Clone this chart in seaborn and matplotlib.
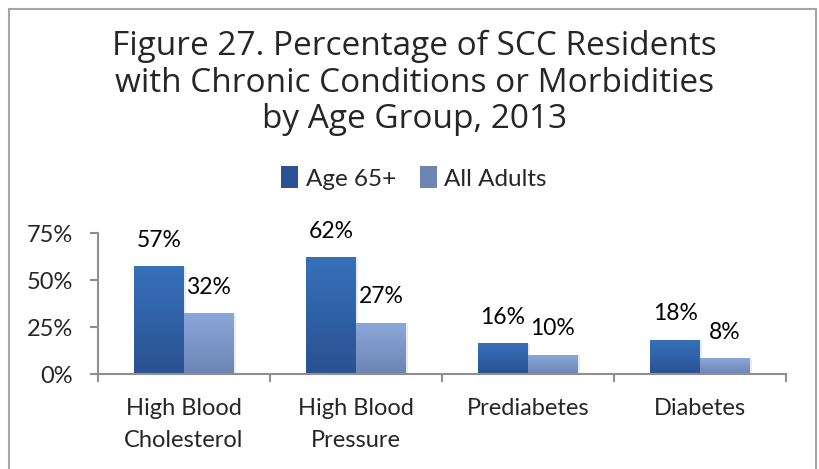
import numpy as np
import pandas as pd
import matplotlib
matplotlib.use("Agg")
import matplotlib.pyplot as plt
from matplotlib.patches import Rectangle, Patch
from matplotlib.colors import LinearSegmentedColormap
import seaborn as sns

# data
conditions = ["High Blood\nCholesterol", "High Blood\nPressure", "Prediabetes", "Diabetes"]
groups = ["Age 65+", "All Adults"]
age65_pct = [57, 62, 16, 18]
all_adults_pct = [32, 27, 10, 8]

df = pd.DataFrame({
    "condition": conditions * 2,
    "group": [groups[0]] * 4 + [groups[1]] * 4,
    "value": age65_pct + all_adults_pct,
})

# gradient ends (top, bottom) for each series
grad = {
    groups[0]: ("#3671ba", "#2a5192"),
    groups[1]: ("#8ba7d9", "#6c85b3"),
}

sns.set_theme(style="white")
plt.rcParams["font.family"] = ["Lato", "DejaVu Sans"]

fig = plt.figure(figsize=(8.2, 4.69), dpi=100)
ax = fig.add_axes([98 / 820, 1 - 374 / 469, (786 - 98) / 820, (374 - 233) / 469])

sns.barplot(data=df, x="condition", y="value", hue="group",
            palette=[grad[g][0] for g in groups], width=0.58,
            saturation=1, ax=ax, legend=False)

# replace the flat fills with vertical gradients
n = len(conditions)
for i, bar in enumerate(ax.patches[:2 * n]):
    g = groups[i // n]
    cmap = LinearSegmentedColormap.from_list(g, [grad[g][1], grad[g][0]])
    x0, y0 = bar.get_x(), bar.get_y()
    w, h = bar.get_width(), bar.get_height()
    # soft shadow on the right
    ax.add_patch(Rectangle((x0 + 0.012, y0), w, h, facecolor="#000000",
                           alpha=0.08, lw=0, zorder=1))
    ax.imshow(np.linspace(0, 1, 64).reshape(-1, 1), cmap=cmap,
              extent=[x0, x0 + w, y0, y0 + h], origin="lower",
              aspect="auto", zorder=2)
    bar.set_visible(False)
    ax.annotate(f"{h:.0f}%", (x0 + w / 2, y0 + h), xytext=(0, 19),
                textcoords="offset points", ha="center", va="center",
                fontsize=16.5, color="black")

ax.set_xlim(-0.5, n - 0.5)
ax.set_ylim(0, 75)
ax.set_yticks([0, 25, 50, 75])
ax.set_yticklabels([f"{t}%" for t in [0, 25, 50, 75]])
ax.set_xticks(range(n))
ax.set_xticklabels(conditions)
ax.set_xticks(np.arange(-0.5, n, 1), minor=True)
ax.set_xlabel("")
ax.set_ylabel("")

for s in ["top", "right"]:
    ax.spines[s].set_visible(False)
for s in ["left", "bottom"]:
    ax.spines[s].set_color("#8f8f8f")
    ax.spines[s].set_linewidth(1.5)

ax.tick_params(axis="y", which="major", left=True, length=6, width=1.5,
               color="#8f8f8f", pad=12, labelsize=17)
ax.tick_params(axis="x", which="major", bottom=False, length=0, pad=17.5,
               labelsize=17)
ax.tick_params(axis="x", which="minor", bottom=True, length=6, width=1.5,
               color="#8f8f8f")
for lbl in ax.get_xticklabels():
    lbl.set_linespacing(1.62)

fig.text(0.505, 1 - 83 / 469,
         "Figure 27. Percentage of SCC Residents\nwith Chronic Conditions or Morbidities\nby Age Group, 2013",
         ha="center", va="center", fontsize=24, linespacing=1.14,
         family=["Open Sans", "DejaVu Sans"])

handles = [Patch(facecolor=grad[g][1], edgecolor="none") for g in groups]
fig.legend(handles, groups, loc="center", bbox_to_anchor=(0.505, 1 - 178 / 469),
           ncol=2, frameon=False, fontsize=17.5, handlelength=0.7,
           handleheight=1.0, handletextpad=0.3, columnspacing=1.0)

fig.add_artist(Rectangle((9 / 820, -0.1), (816 - 9) / 820, 1.1 - 9 / 469,
                         transform=fig.transFigure, fill=False,
                         edgecolor="#a6a6a6", lw=1.5))

fig.savefig("out.png", dpi=100)
